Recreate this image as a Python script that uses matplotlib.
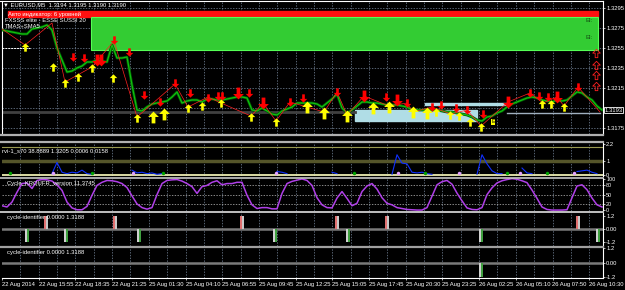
import numpy as np
import matplotlib
matplotlib.use("Agg")
import matplotlib.pyplot as plt
from matplotlib.path import Path
from matplotlib.lines import Line2D
from matplotlib.patches import Rectangle

# =========================
# 1. data (bars = 25 min samples)
# =========================
close = [1.3273, 1.3272, 1.3271, 1.3270, 1.3269, 1.3269, 1.3274, 1.3275, 1.3276, 1.3278,
         1.3273, 1.3255, 1.3243, 1.3231, 1.3232, 1.3235, 1.3237, 1.3241, 1.3241, 1.3243,
         1.3242, 1.3241, 1.3258, 1.3245, 1.3245, 1.3246, 1.3218, 1.3193, 1.3192, 1.3196,
         1.3199, 1.3200, 1.3201, 1.3202, 1.3206, 1.3211, 1.3200, 1.3202, 1.3203, 1.3203,
         1.3201, 1.3204, 1.3204, 1.3203, 1.3203, 1.3204, 1.3205, 1.3206, 1.3206, 1.3205,
         1.3193, 1.3192, 1.3195, 1.3192, 1.3189, 1.3188, 1.3192, 1.3194, 1.3196, 1.3200,
         1.3200, 1.3200, 1.3200, 1.3199, 1.3196, 1.3200, 1.3204, 1.3209, 1.3195, 1.3190,
         1.3193, 1.3197, 1.3201, 1.3201, 1.3200, 1.3200, 1.3199, 1.3198, 1.3198, 1.3198,
         1.3197, 1.3196, 1.3193, 1.3193, 1.3193, 1.3193, 1.3193, 1.3193, 1.3192, 1.3191,
         1.3191, 1.3190, 1.3189, 1.3188, 1.3186, 1.3183, 1.3182, 1.3186, 1.3187, 1.3190,
         1.3192, 1.3196, 1.3199, 1.3201, 1.3203, 1.3205, 1.3206, 1.3205, 1.3203, 1.3202,
         1.3201, 1.3203, 1.3202, 1.3203, 1.3207, 1.3211, 1.3210, 1.3206, 1.3203, 1.3197,
         1.3193]

zz_bar = [0, 4.6, 10, 12.6, 18, 22.4, 27, 34.6, 37.2, 41.2, 43.8, 49.8, 52.2, 54.8, 57.6, 64.4, 67,
          69, 72.4, 77.4, 81, 82.2, 86, 89.8, 93, 95.8, 101.2, 105.6, 108.2, 111, 112.4, 115.2, 119.6]
zz_price = [1.3274, 1.3258, 1.3280, 1.3221, 1.3236, 1.3262, 1.3186, 1.3219, 1.3196, 1.3206, 1.3200,
            1.3187, 1.3200, 1.3182, 1.3201, 1.3191, 1.3211, 1.3188, 1.3207, 1.3197, 1.3200, 1.3191,
            1.3196, 1.3189, 1.3193, 1.3177, 1.3201, 1.3210, 1.3200, 1.3206, 1.3197, 1.3216, 1.3191]

up_bar = [4.6, 10.2, 12.6, 15.2, 18.0, 22.2, 27.0, 37.2, 40.0, 43.8, 49.8, 54.8, 86.8, 89.6,
          91.4, 93.6, 95.8, 108.0, 109.8, 112.4]
up_price = [1.3256, 1.3236, 1.3220, 1.3226, 1.3235, 1.3225, 1.3185, 1.3195, 1.3197, 1.3200,
            1.3186, 1.3181, 1.3191, 1.3188, 1.3187, 1.3181, 1.3176, 1.3199, 1.3199, 1.3196]
up_big_bar = [30.2, 32.4, 61.0, 64.4, 69.0, 74.2, 77.4, 82.2, 85.0]
up_big_price = [1.3186, 1.3189, 1.3196, 1.3190, 1.3187, 1.3195, 1.3196, 1.3191, 1.3190]

dn_bar = [14.2, 16.4, 22.4, 25.4, 28.4, 31.6, 34.6, 37.6, 41.2, 43.2, 44.0, 49.4, 57.6, 60.2,
          67.0, 76.8, 81.0, 86.0, 87.8, 90.8, 93.0, 96.2, 105.6, 107.4, 109.2, 115.2]
dn_price = [1.3246, 1.3245, 1.3263, 1.3251, 1.3208, 1.3201, 1.3220, 1.3210, 1.3205, 1.3207,
            1.3207, 1.3210, 1.3201, 1.3205, 1.3211, 1.3206, 1.3200, 1.3196, 1.3198, 1.3195,
            1.3193, 1.3189, 1.3210, 1.3207, 1.3206, 1.3216]
dn_big_bar = [19.0, 19.8, 47.2, 52.2, 72.4, 79.0, 101.2, 111.0]
dn_big_price = [1.3243, 1.3243, 1.3210, 1.3200, 1.3207, 1.3203, 1.3201, 1.3206]

hollow_bar = [118.8, 118.8, 118.8, 118.8]
hollow_price = [1.3250, 1.3238, 1.3228, 1.3217]

price_levels = [1.3175, 1.3195, 1.3215, 1.3235, 1.3255, 1.3275, 1.3295]
price_labels = ["1.3175", "", "1.3215", "1.3235", "1.3255", "1.3275", "1.3295"]
last_price = 1.3193

rvi_bar = [10, 11, 12, 13, 14, 15, 16, 17, 18,
           26, 27, 28, 29, 30, 31, 32,
           55, 56, 57,
           66, 67,
           78, 79, 80, 81, 82, 83, 84, 85, 86,
           95, 96, 97, 98, 99, 100,
           104, 105, 106,
           115, 116, 117, 118, 119]
rvi_val = [0.1, 0.9, 0.2, 0.1, 0.2, 0.15, 0.35, 0.1, 0.05,
           0.35, 0.15, 0.2, 0.1, 0.15, 0.05, 0.1,
           0.25, 0.2, 0.1,
           0.2, 0.1,
           0.05, 1.45, 0.85, 0.8, 0.2, 0.15, 0.2, 0.1, 0.05,
           0.05, 1.45, 0.8, 0.3, 0.1, 0.1,
           0.5, 0.15, 0.1,
           0.25, 0.3, 0.35, 0.2, 0.1]
rvi_green_dots = [1.6, 18.0, 32.2, 70.4, 84.6, 101.0, 109.0]
rvi_pink_dots = [10.2, 26.2, 54.8, 79.2, 91.4, 103.6, 114.4]

cycle = [14, 10, 26, 58, 86, 88, 70, 96, 99, 98,
         94, 82, 64, 26, 7, 1, 1, 12, 48, 80,
         90, 96, 95, 92, 86, 73, 46, 20, 8, 3,
         8, 50, 86, 96, 98, 99, 94, 86, 76, 54,
         76, 80, 90, 95, 82, 86, 86, 90, 90, 48,
         17, 5, 8, 8, 4, 4, 54, 86, 93, 97,
         101, 96, 80, 40, 17, 8, 7, 39, 60, 38,
         14, 22, 60, 78, 86, 68, 40, 22, 17, 8,
         5, 2, 1, 0, 0, 8, 45, 82, 92, 96,
         84, 55, 30, 7, 2, 1, 8, 50, 72, 88,
         95, 99, 102, 100, 95, 89, 65, 38, 10, 2,
         0, 0, 0, 1, 40, 78, 82, 66, 39, 17,
         10]

id1_up = [8.6, 22.4, 47.8, 66.8, 76.8, 115.0]
id1_dn = [4.8, 12.6, 27.2, 54.4, 69.0, 95.6, 119.0]
id2_dn = [95.6]

time_labels = ["22 Aug 2014", "22 Aug 15:55", "22 Aug 18:35", "22 Aug 21:25", "25 Aug 01:30",
               "25 Aug 04:10", "25 Aug 06:55", "25 Aug 09:45", "25 Aug 12:25", "25 Aug 15:05",
               "25 Aug 17:45", "25 Aug 20:30", "25 Aug 23:25", "26 Aug 02:25", "26 Aug 05:10",
               "26 Aug 07:50", "26 Aug 10:30"]

# =========================
# 2. figure / panels
# =========================
plt.rcParams["font.family"] = ["Liberation Sans", "DejaVu Sans"]
W, H = 625, 290
fig = plt.figure(figsize=(6.25, 2.9), dpi=100, facecolor="black")

XMAX = 120.2
tick_bars = np.arange(len(time_labels)) * 7.34
grid_bars = np.arange(0, XMAX, 3.67)[1:]
GRID = "#7a8aa0"
FS = 4.2


def panel(top, bottom):
    ax = fig.add_axes([2 / W, 1 - bottom / H, 601 / W, (bottom - top) / H])
    ax.set_facecolor("black")
    ax.set_xlim(0, XMAX)
    for s in ["top", "bottom", "left"]:
        ax.spines[s].set_visible(False)
    ax.spines["right"].set_color("white")
    ax.spines["right"].set_linewidth(0.8)
    ax.set_xticks([])
    ax.yaxis.tick_right()
    ax.tick_params(axis="y", colors="white", labelsize=FS, length=1.5, width=0.5, pad=0.8)
    for gx in grid_bars:
        ax.axvline(gx, color=GRID, lw=0.5, ls=(0, (2, 2)), zorder=0)
    return ax


def hline(ypx, color, lw=1.5, x1=603):
    fig.add_artist(Line2D([0, x1 / W], [1 - ypx / H, 1 - ypx / H], color=color, lw=lw,
                          transform=fig.transFigure))


x = np.arange(len(close))

up_path = Path([(0, 1.1), (1, 0.1), (0.35, 0.1), (0.35, -1.1), (-0.35, -1.1),
                (-0.35, 0.1), (-1, 0.1), (0, 1.1)], closed=True)
dn_path = Path([(vx, -vy) for vx, vy in up_path.vertices], closed=True)

# ---- main price panel
ax = panel(1, 134)
ax.spines["left"].set_visible(True)
ax.spines["left"].set_color("white")
ax.set_ylim(1.3169, 1.3302)
ax.set_yticks([p for p, t in zip(price_levels, price_labels) if t])
ax.set_yticklabels([t for t in price_labels if t])
for lv in price_levels:
    ax.axhline(lv, color=GRID, lw=0.5, ls=(0, (2, 2)), zorder=0)

# indicator boxes
ax.add_patch(Rectangle((1.2, 1.3286), 118.0, 0.0006, color="#ff1010", zorder=1))
ax.add_patch(Rectangle((17.8, 1.3253), 101.4, 0.0033, facecolor="#33cc33",
                       edgecolor="#55ff55", lw=0.8, zorder=1))
ax.add_patch(Rectangle((70.6, 1.3182), 24.4, 0.0011, color="#b0dde6", zorder=1))
ax.add_patch(Rectangle((84.6, 1.3198), 16.4, 0.0002, color="#b0dde6", zorder=1))
ax.plot([0, 70.6], [1.3191, 1.3191], color="#404040", lw=2, zorder=1)
ax.plot([101, 119.6], [1.3190, 1.3190], color="#a0b0c0", lw=1, zorder=1)
ax.plot([0, 5.6], [1.3255, 1.3255], color="white", lw=0.7, ls=(0, (2, 1)), zorder=1)
ax.text(116.8, 1.3281, "El:", color="#145214", fontsize=4.5, zorder=2)
ax.text(116.8, 1.3264, "El:", color="#145214", fontsize=4.5, zorder=2)

# price line + zigzag
ax.plot(x, close, color="#005a00", lw=2.0, zorder=3)
ax.plot(x, close, color="#10c010", lw=0.9, zorder=4)
ax.plot(zz_bar, zz_price, color="#ff2020", lw=0.5, zorder=5)

# signal arrows
ax.plot(up_bar, up_price, ls="none", marker=up_path, ms=6, color="#ffff00", mew=0, zorder=6)
ax.plot(up_big_bar, up_big_price, ls="none", marker=up_path, ms=8.5, color="#ffff00", mew=0, zorder=6)
ax.plot(dn_bar, dn_price, ls="none", marker=dn_path, ms=6, color="#ff0000", mew=0, zorder=6)
ax.plot(dn_big_bar, dn_big_price, ls="none", marker=dn_path, ms=8.5, color="#ff0000", mew=0, zorder=6)
ax.plot(hollow_bar, hollow_price, ls="none", marker=up_path, ms=6, mfc="none", mec="#ff2020",
        mew=0.6, zorder=6)
ax.text(98.2, 1.3181, "E", color="black", fontsize=4, ha="center", va="center", zorder=7,
        bbox=dict(boxstyle="square,pad=0.1", fc="#ffff00", ec="none"))

ax.text(1.002, last_price, "1.3193", transform=ax.get_yaxis_transform(), color="white",
        fontsize=FS, va="center", ha="left",
        bbox=dict(boxstyle="square,pad=0.12", fc="black", ec="white", lw=0.6))

fig.text(3 / W, 1 - 5 / H, "\u25bc EURUSD,M5  1.3194 1.3195 1.3190 1.3190", color="white",
         fontsize=FS, va="center")
fig.text(8 / W, 1 - 14 / H, "Авто индикатор: 6 уровней", color="white", fontsize=FS, va="center")
fig.text(5 / W, 1 - 20 / H, "FXSSS elite - ESSE SUSSI 20", color="white", fontsize=FS, va="center")
fig.text(5 / W, 1 - 26 / H, "TMAS+SMA5", color="white", fontsize=FS, va="center")

# ---- rvi panel
ax2 = panel(143, 176)
ax2.set_ylim(-0.07, 2.29)
ax2.set_yticks([0, 1, 2.2])
ax2.set_yticklabels(["0", "1", "2.2"])
ax2.axhline(2.0, color="#9a9a50", lw=0.8)
ax2.axhline(1.0, color="#55552a", lw=2.5)
ax2.axhline(0.0, color="#ffffc0", lw=1.2)
rb = np.array(rvi_bar)
rv = np.array(rvi_val)
cuts = np.where(np.diff(rb) != 1)[0] + 1
for seg_b, seg_v in zip(np.split(rb, cuts), np.split(rv, cuts)):
    ax2.plot(seg_b, seg_v, color="#1030ff", lw=0.8)
ax2.plot(rvi_green_dots, [0.12] * len(rvi_green_dots), ls="none", marker="o", ms=2.5,
         color="#00a000", mew=0)
ax2.plot(rvi_pink_dots, [0.12] * len(rvi_pink_dots), ls="none", marker="o", ms=2.5,
         color="#e0a0ff", mew=0)
ax2.text(0.01, 1.75, "rvi-1_s70 38.8889 1.3205 0.0006 0.0158", color="white", fontsize=FS,
         va="center")

# ---- cycle panel
ax3 = panel(178, 211)
ax3.set_ylim(-3, 104)
ax3.set_yticks([0, 20, 50, 80, 100])
ax3.set_yticklabels(["0", "20", "50", "80", "100"])
ax3.tick_params(axis="y", labelsize=3.9)
for lv in [20, 50, 80]:
    ax3.axhline(lv, color="#c0c0c0", lw=0.5, ls=(0, (2, 2)))
ax3.plot(x, cycle, color="#b040e8", lw=1.1)
ax3.text(1, 86, "Cycle_KROUFR_version 11.3745", color="white", fontsize=FS, va="center")

# ---- cycle-identifier panels
ax4 = panel(212, 246)
ax4.set_ylim(-1.57, 1.57)
ax4.set_yticks([-1.2, 0, 1.2])
ax4.set_yticklabels(["-1.2", "0.00", "1.2"])
ax4.axhline(0, color="#7a7a7a", lw=1.8, zorder=1)
ax4.bar(id1_up, [1.2] * len(id1_up), width=0.35, color="#e07070", zorder=2)
ax4.bar(np.array(id1_up) + 0.35, [1.2] * len(id1_up), width=0.35, color="#c8c8c8", zorder=2)
ax4.bar(id1_dn, [-1.2] * len(id1_dn), width=0.35, color="#d0d0d0", zorder=2)
ax4.bar(np.array(id1_dn) + 0.35, [-1.2] * len(id1_dn), width=0.35, color="#40a040", zorder=2)
ax4.text(1, 1.1, "cycle-identifier 0.0000 1.3188", color="white", fontsize=FS, va="center")

ax5 = panel(247, 278)
ax5.set_ylim(-1.25, 1.28)
ax5.set_yticks([-1.2, 0, 1.2])
ax5.set_yticklabels(["-1.2", "0.00", "1.2"])
ax5.axhline(0, color="#7a7a7a", lw=1.8, zorder=1)
ax5.bar(id2_dn, [-1.2] * len(id2_dn), width=0.35, color="#d0d0d0", zorder=2)
ax5.bar(np.array(id2_dn) + 0.35, [-1.2] * len(id2_dn), width=0.35, color="#40a040", zorder=2)
ax5.text(1, 0.85, "cycle-identifier 0.0000 1.3188", color="white", fontsize=FS, va="center")
ax5.spines["bottom"].set_visible(True)
ax5.spines["bottom"].set_color("white")
ax5.set_xticks(tick_bars)
ax5.set_xticklabels(time_labels, ha="left")
ax5.tick_params(axis="x", colors="white", labelsize=FS, length=1.5, width=0.5, pad=1.5)

# separators
hline(1, "white", lw=0.8)
hline(135, "#b0b0b0", lw=1.6)
hline(142, "#b0b0b0", lw=1.6)
hline(177.5, "#c8c8c8", lw=1.2)
hline(212, "#c0c0c0", lw=1.4)
hline(246.5, "#a0a0a0", lw=1.6)

fig.savefig("out.png", dpi=100, facecolor="black")
